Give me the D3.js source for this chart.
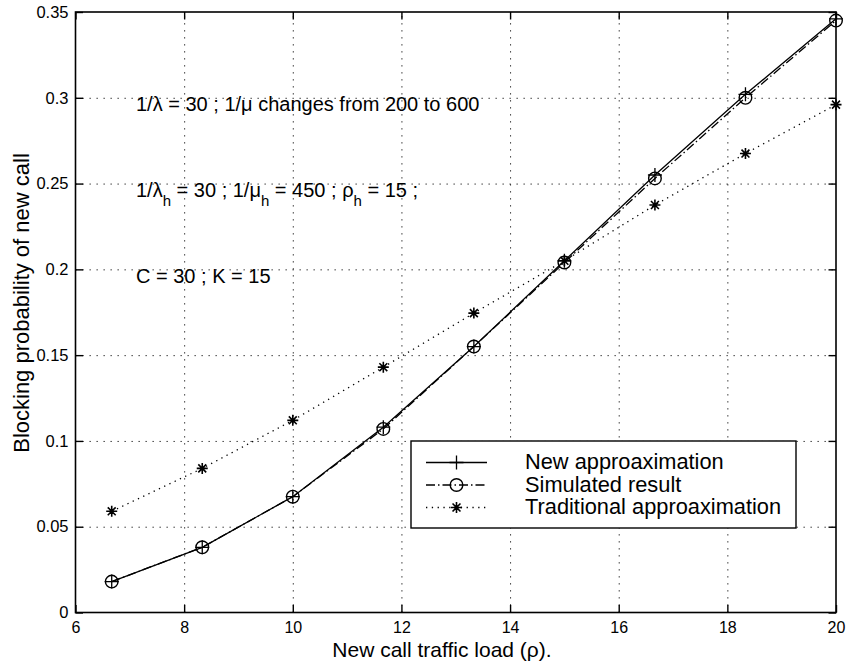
<!DOCTYPE html>
<html>
<head>
<meta charset="utf-8">
<script src="https://cdn.jsdelivr.net/npm/d3@7"></script>
<style>
  html, body { margin: 0; padding: 0; background: #fff; }
  svg { display: block; }
  text { font-family: "Liberation Sans", Arial, Helvetica, sans-serif; fill: #000; }
</style>
</head>
<body>
<svg id="chart" width="846" height="669"></svg>
<script>
// Offered new-call load rho = (1/mu) / (1/lambda), 1/mu from 200 to 600
const loads = [200, 250, 300, 350, 400, 450, 500, 550, 600].map(v => v / 30);

const newApprox   = [0.018, 0.038, 0.0675, 0.108, 0.155, 0.205, 0.255, 0.302, 0.346];
const simulated   = [0.018, 0.038, 0.0675, 0.107, 0.155, 0.204, 0.253, 0.300, 0.345];
const traditional = [0.059, 0.084, 0.112, 0.143, 0.1745, 0.205, 0.2375, 0.2675, 0.296];

const xTicks = [6, 8, 10, 12, 14, 16, 18, 20];
const yTicks = [0, 0.05, 0.1, 0.15, 0.2, 0.25, 0.3, 0.35];
const yTickLabels = ["0", "0.05", "0.1", "0.15", "0.2", "0.25", "0.3", "0.35"];

const legendLabels = ["New approaximation", "Simulated result", "Traditional approaximation"];

const svg = d3.select("#chart");
const plotL = 75.5, plotR = 836, plotT = 12, plotB = 612.5;
const W = plotR - plotL, H = plotB - plotT;

const x = d3.scaleLinear().domain([6, 20]).range([plotL, plotR]);
const y = d3.scaleLinear().domain([0, 0.35]).range([plotB, plotT]);

// dotted grid
const grid = svg.append("g").attr("class", "grid");
grid.append("g")
  .attr("transform", `translate(0,${plotB})`)
  .call(d3.axisBottom(x).tickValues(xTicks.slice(1, -1)).tickSize(-H).tickFormat(""))
  .call(g => g.select(".domain").remove());
grid.append("g")
  .attr("transform", `translate(${plotL},0)`)
  .call(d3.axisLeft(y).tickValues(yTicks.slice(1, -1)).tickSize(-W).tickFormat(""))
  .call(g => g.select(".domain").remove());
grid.selectAll("line")
  .attr("stroke", "#222").attr("stroke-width", 1).attr("stroke-dasharray", "1.3,5.7");

// axes with inward ticks
const tickLen = 7.5;
const axB = svg.append("g").attr("transform", `translate(0,${plotB})`)
  .call(d3.axisBottom(x).tickValues(xTicks).tickSize(-tickLen).tickPadding(9).tickFormat(d3.format("d")));
const axL = svg.append("g").attr("transform", `translate(${plotL},0)`)
  .call(d3.axisLeft(y).tickValues(yTicks).tickSize(-tickLen).tickPadding(7)
    .tickFormat((d, i) => yTickLabels[i]));
const axT = svg.append("g").attr("transform", `translate(0,${plotT})`)
  .call(d3.axisTop(x).tickValues(xTicks).tickSize(-tickLen).tickFormat(""));
const axR = svg.append("g").attr("transform", `translate(${plotR},0)`)
  .call(d3.axisRight(y).tickValues(yTicks).tickSize(-tickLen).tickFormat(""));
[axB, axL, axT, axR].forEach(a => {
  a.select(".domain").remove();
  a.selectAll("line").attr("stroke", "#000").attr("stroke-width", 1.4);
  a.selectAll("text").attr("font-family", "Liberation Sans, Arial, sans-serif").attr("fill", "#000");
});
axB.selectAll("text").attr("font-size", 16);
axL.selectAll("text").attr("font-size", 16.5);

svg.append("rect")
  .attr("x", plotL).attr("y", plotT).attr("width", W).attr("height", H)
  .attr("fill", "none").attr("stroke", "#000").attr("stroke-width", 1.6);

// axis titles
svg.append("text")
  .attr("x", 442).attr("y", 657)
  .attr("text-anchor", "middle").attr("font-size", 21)
  .text("New call traffic load (ρ).");
svg.append("text")
  .attr("transform", "translate(29,303) rotate(-90)")
  .attr("text-anchor", "middle").attr("font-size", 22)
  .text("Blocking probability of new call");

// series
const series = [
  { values: newApprox, dash: null, marker: "plus" },
  { values: simulated, dash: "9,3,1.5,3", marker: "circle" },
  { values: traditional, dash: "1.3,4.5", marker: "star" }
];

const line = d3.line().x(d => x(d[0])).y(d => y(d[1]));

function drawMarker(g, type, cx, cy) {
  if (type === "plus") {
    g.append("path").attr("d", `M${cx - 7},${cy}H${cx + 7}M${cx},${cy - 7}V${cy + 7}`)
      .attr("stroke", "#000").attr("stroke-width", 1.3).attr("fill", "none");
  } else if (type === "circle") {
    g.append("circle").attr("cx", cx).attr("cy", cy).attr("r", 6.3)
      .attr("stroke", "#000").attr("stroke-width", 1.4).attr("fill", "none");
  } else {
    const r = 5.5, d = r * 0.72;
    g.append("path")
      .attr("d", `M${cx - r},${cy}H${cx + r}M${cx},${cy - r}V${cy + r}` +
        `M${cx - d},${cy - d}L${cx + d},${cy + d}M${cx - d},${cy + d}L${cx + d},${cy - d}`)
      .attr("stroke", "#000").attr("stroke-width", 1.6).attr("fill", "none");
  }
}

series.forEach(s => {
  const pts = loads.map((v, i) => [v, s.values[i]]);
  svg.append("path").datum(pts).attr("d", line)
    .attr("fill", "none").attr("stroke", "#000").attr("stroke-width", 1.3)
    .attr("stroke-dasharray", s.dash);
  const mg = svg.append("g");
  pts.forEach(p => drawMarker(mg, s.marker, x(p[0]), y(p[1])));
});

// parameter annotations
const notes = svg.append("g").attr("font-size", 20);
notes.append("text").attr("x", 136).attr("y", 111)
  .text("1/λ = 30 ; 1/μ changes from 200 to 600");
const n2 = notes.append("text").attr("x", 136).attr("y", 197);
const sub = (t, txt) => t.append("tspan").attr("dy", 9).attr("font-size", 15).text(txt);
n2.append("tspan").text("1/λ");
sub(n2, "h");
n2.append("tspan").attr("dy", -9).text(" = 30 ; 1/μ");
sub(n2, "h");
n2.append("tspan").attr("dy", -9).text(" = 450 ; ρ");
sub(n2, "h");
n2.append("tspan").attr("dy", -9).text(" = 15 ;");
notes.append("text").attr("x", 136).attr("y", 283).text("C = 30 ; K = 15");

// legend
const lg = svg.append("g");
lg.append("rect").attr("x", 411).attr("y", 441).attr("width", 385).attr("height", 87)
  .attr("fill", "#fff").attr("stroke", "#000").attr("stroke-width", 1.4);
const rowsY = [462.5, 485, 507.5];
series.forEach((s, i) => {
  lg.append("line").attr("x1", 426).attr("x2", 487).attr("y1", rowsY[i]).attr("y2", rowsY[i])
    .attr("stroke", "#000").attr("stroke-width", 1.3).attr("stroke-dasharray", s.dash);
  drawMarker(lg, s.marker, 456.5, rowsY[i]);
  lg.append("text").attr("x", 525).attr("y", rowsY[i] + 6.5).attr("font-size", 21.8)
    .text(legendLabels[i]);
});
</script>
</body>
</html>
